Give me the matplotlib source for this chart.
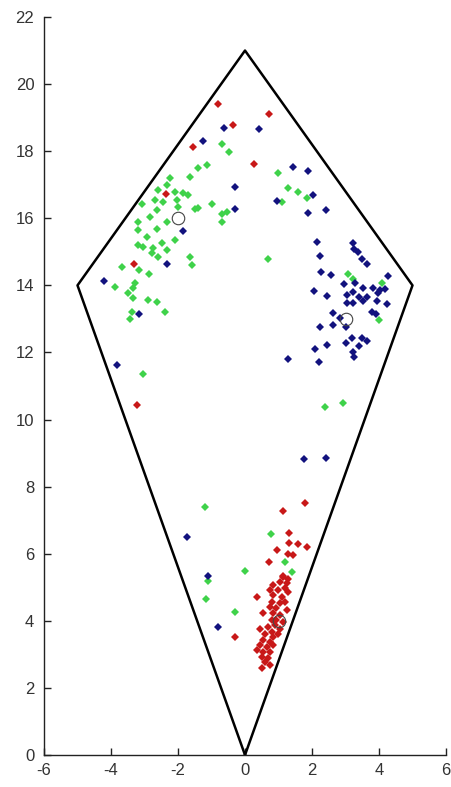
import numpy as np
import matplotlib
matplotlib.use('Agg')
import matplotlib.pyplot as plt

plt.rcParams['axes.unicode_minus'] = False

# kite outline
kite_x = [0, 5, 0, -5, 0]
kite_y = [0, 14, 21, 14, 0]

# cluster centres (open circles)
centre_x = [-2, 3, 1]
centre_y = [16, 13, 4]

red_x = [-1.56, -0.8, 0.73, -0.35, 0.28, -2.36, -3.31, -3.21,
         1.8, 1.12, 1.32, 1.32, 1.59, 1.86, 0.95, 1.29, 1.44, 0.73,
         1.14, 1.29, -0.3, 0.35,
         1.14, 1.04, 1.24, 0.85, 0.75, 0.99, 1.19, 0.85, 1.09, 1.29,
         0.8, 1.04, 1.19, 0.75, 0.94, 1.24, 0.55, 0.85, 1.04, 0.8,
         0.94, 1.14, 0.9, 0.45, 0.7, 1.04, 0.8, 0.99, 0.6, 0.85,
         0.55, 0.75, 0.45, 0.65, 0.85, 0.35, 0.55, 0.75, 0.5, 0.7,
         0.6, 0.5, 0.75]
red_y = [18.12, 19.42, 19.1, 18.79, 17.63, 16.72, 14.63, 10.43,
         7.52, 7.28, 6.63, 6.33, 6.29, 6.19, 6.11, 6.0, 5.96, 5.76,
         5.34, 5.26, 3.53, 4.72,
         5.32, 5.17, 5.12, 5.07, 4.92, 4.92, 4.97, 4.77, 4.72, 4.87,
         4.57, 4.52, 4.57, 4.42, 4.37, 4.32, 4.22, 4.22, 4.17, 4.02,
         4.02, 3.97, 3.87, 3.77, 3.82, 3.77, 3.68, 3.62, 3.62, 3.53,
         3.43, 3.38, 3.28, 3.23, 3.28, 3.13, 3.08, 3.08, 2.93, 2.88,
         2.78, 2.58, 2.68]

green_x = [-1.14, -1.39, -1.64, -2.24, -2.34, -2.59, -2.09, -1.86, -1.69,
           -1.49, -1.39, -3.08, -2.69, -2.44, -2.04, -1.99, -2.64, -2.84,
           -3.18, -2.34, -2.64, -3.18, -2.93, -2.09, -2.49, -3.18, -3.04,
           -2.74, -2.79, -2.34, -2.59, -1.64, -1.59, -3.68, -3.16, -2.86,
           -3.88, -3.28, -3.33, -3.48, -3.33, -2.89, -2.62, -3.38, -3.43,
           -2.39, -0.7, -0.47, 0.99, 1.29, 1.57, 1.84, 1.1, -0.98, -0.7,
           -0.53, -0.7, 0.7, 3.08, 3.21, 4.08, 4.01, 2.39, 2.93, -3.04,
           -1.2, -1.09, 0.0, -1.16, -0.3, 0.77, 1.19, 1.39]
green_y = [17.6, 17.5, 17.24, 17.19, 16.99, 16.84, 16.79, 16.74, 16.69,
           16.29, 16.32, 16.44, 16.54, 16.49, 16.54, 16.34, 16.24, 16.04,
           15.89, 15.89, 15.69, 15.65, 15.45, 15.35, 15.25, 15.2, 15.15,
           15.1, 14.95, 15.05, 14.85, 14.85, 14.6, 14.55, 14.46, 14.35,
           13.96, 14.06, 13.91, 13.76, 13.61, 13.56, 13.51, 13.21, 13.01,
           13.21, 18.21, 17.98, 17.36, 16.91, 16.79, 16.61, 16.49, 16.42,
           16.14, 16.19, 15.89, 14.8, 14.34, 14.18, 14.08, 12.97, 10.38,
           10.48, 11.37, 7.38, 5.19, 5.49, 4.66, 4.27, 6.6, 5.76, 5.46]

blue_x = [-1.25, -0.63, 0.42, 1.44, 1.89, -0.3, 2.04, 0.95, -0.3, 1.89,
          2.42, -1.84, -2.34, -4.2, -3.16, -3.83,
          2.14, 3.23, 3.25, 3.38, 2.24, 3.48, 3.63, 2.26, 2.57, 4.28,
          2.96, 3.28, 3.53, 3.83, 4.03, 4.18, 3.98, 2.06, 3.23, 3.03,
          3.41, 3.63, 2.44, 3.93, 3.03, 3.21, 4.23, 3.53, 2.62, 2.84,
          3.78, 3.91, 2.24, 2.64, 3.01, 3.18, 3.48, 3.63, 3.0, 3.41,
          2.44, 2.09, 3.21, 3.25,
          1.27, 2.21, 1.76, 2.43, -1.74, -1.11, -0.8]
blue_y = [18.3, 18.7, 18.65, 17.53, 17.41, 16.94, 16.69, 16.52, 16.29, 16.16,
          16.24, 15.61, 14.65, 14.13, 13.16, 11.64,
          15.3, 15.27, 15.07, 15.0, 14.87, 14.8, 14.63, 14.4, 14.32, 14.28,
          14.03, 14.06, 13.91, 13.91, 13.86, 13.88, 13.76, 13.84, 13.81, 13.71,
          13.66, 13.66, 13.68, 13.54, 13.46, 13.46, 13.44, 13.54, 13.18, 13.04,
          13.21, 13.14, 12.76, 12.82, 12.76, 12.44, 12.44, 12.34, 12.27, 12.19,
          12.22, 12.09, 12.02, 11.87,
          11.8, 11.73, 8.82, 8.86, 6.49, 5.34, 3.82]

fig = plt.figure(figsize=(4.51, 7.87), dpi=100)
ax = fig.add_axes([44 / 451, 32 / 787, 402 / 451, 738 / 787])

ax.plot(kite_x, kite_y, color='black', linewidth=1.8)
ax.plot(green_x, green_y, 'D', color='#3fd24a', markersize=4.0,
        markeredgewidth=0)
ax.plot(blue_x, blue_y, 'D', color='#12127e', markersize=4.0,
        markeredgewidth=0)
ax.plot(red_x, red_y, 'D', color='#c81818', markersize=4.0,
        markeredgewidth=0)
ax.plot(centre_x, centre_y, 'o', markerfacecolor='none',
        markeredgecolor='#444444', markersize=9, markeredgewidth=0.8)

ax.set_xlim(-6, 6)
ax.set_ylim(0, 22)
ax.set_xticks(np.arange(-6, 7, 2))
ax.set_yticks(np.arange(0, 23, 2))
ax.spines['top'].set_visible(False)
ax.spines['right'].set_visible(False)
for s in ['left', 'bottom']:
    ax.spines[s].set_linewidth(1.0)
    ax.spines[s].set_color('#222222')
ax.tick_params(direction='in', length=5, width=1, colors='#222222',
               labelsize=12, labelcolor='#333333')
ax.tick_params(axis='x', pad=6)
ax.tick_params(axis='y', pad=7)
for lab in ax.get_xticklabels() + ax.get_yticklabels():
    lab.set_family('Liberation Sans')

fig.savefig('out.png', dpi=100, facecolor='white')
